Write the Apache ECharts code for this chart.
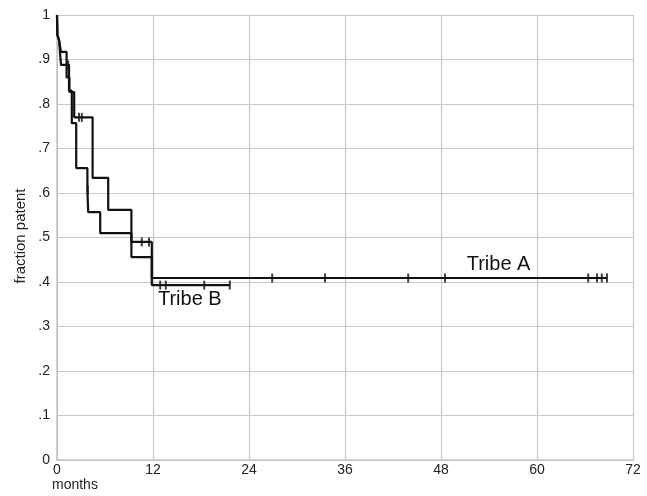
<!DOCTYPE html>
<html>
<head>
<meta charset="utf-8">
<script src="https://cdn.jsdelivr.net/npm/echarts@6/dist/echarts.min.js"></script>
<style>
  html, body { margin: 0; padding: 0; background: #fff; }
  #main { width: 647px; height: 496px; }
</style>
</head>
<body>
<div id="main"></div>
<script>
	// Kaplan-Meier steps: time (months) and fraction patent after each event
	var tribeA_t = [0, 0.05, 0.25, 0.5, 1.2, 1.55, 2.15, 4.45, 6.4, 9.3, 11.85, 68.75];
	var tribeA_s = [1, 0.955, 0.944, 0.917, 0.86, 0.827, 0.77, 0.634, 0.562, 0.49, 0.409, 0.409];
	var tribeA_censor = [2.75, 3.1, 10.6, 11.5, 26.9, 33.5, 43.9, 48.5, 66.4, 67.5, 68.1, 68.75];

	var tribeB_t = [0, 0.05, 0.25, 0.5, 1.5, 1.85, 2.4, 3.8, 3.9, 5.4, 9.3, 11.85, 21.6];
	var tribeB_s = [1, 0.955, 0.944, 0.888, 0.83, 0.757, 0.656, 0.607, 0.557, 0.51, 0.456, 0.393, 0.393];
	var tribeB_censor = [1.4, 3.85, 12.9, 13.6, 18.4, 21.6];

	var yLabels = {'0': '0', '0.1': '.1', '0.2': '.2', '0.3': '.3', '0.4': '.4', '0.5': '.5',
		'0.6': '.6', '0.7': '.7', '0.8': '.8', '0.9': '.9', '1': '1'};

	function pairs(t, s) {
		var out = [];
		for (var i = 0; i < t.length; i++) out.push([t[i], s[i]]);
		return out;
	}
	// level of the step curve at time x
	function levelAt(t, s, x) {
		var v = s[0];
		for (var i = 0; i < t.length; i++) { if (t[i] <= x) v = s[i]; }
		return v;
	}
	function censorPoints(t, s, c) {
		var out = [];
		for (var i = 0; i < c.length; i++) out.push([c[i], levelAt(t, s, c[i])]);
		return out;
	}

	var font = '"Liberation Sans", Arial, sans-serif';
	var myChart = echarts.init(document.getElementById('main'), null, {renderer: 'canvas'});

	myChart.setOption({
		animation: false,
		grid: { left: 57, right: 14, top: 15, bottom: 36 },
		xAxis: {
			type: 'value', min: 0, max: 72, interval: 12,
			axisLine: { show: true, lineStyle: { color: '#c4c4c4', width: 1.5 } },
			axisTick: { show: false },
			splitLine: { show: true, lineStyle: { color: '#c8c8c8', width: 1.2 } },
			axisLabel: { color: '#222', fontSize: 14, fontFamily: font, margin: 3 }
		},
		yAxis: {
			type: 'value', min: 0, max: 1, interval: 0.1,
			axisLine: { show: true, lineStyle: { color: '#c4c4c4', width: 1.5 } },
			axisTick: { show: false },
			splitLine: { show: true, lineStyle: { color: '#c8c8c8', width: 1.2 } },
			axisLabel: {
				color: '#222', fontSize: 14, fontFamily: font, margin: 7,
				formatter: function (v) { return yLabels[String(Math.round(v * 10) / 10)]; }
			}
		},
		graphic: [
			{ type: 'text', left: 52, top: 478,
				style: { text: 'months', fontSize: 14, fontFamily: font, fill: '#222' } },
			{ type: 'text', x: 21, y: 236, rotation: Math.PI / 2,
				style: { text: 'fraction patent', fontSize: 15, fontFamily: font, fill: '#222',
					align: 'center', verticalAlign: 'middle' } }
		],
		series: [
			{
				name: 'Tribe A', type: 'line', step: 'end', showSymbol: false,
				data: pairs(tribeA_t, tribeA_s),
				lineStyle: { color: '#111', width: 2.2 },
				markPoint: {
					symbolSize: 0,
					data: [{ coord: [55.2, 0.44],
						label: { show: true, formatter: 'Tribe A', color: '#111', fontSize: 20, fontFamily: font } }]
				}
			},
			{
				name: 'Tribe B', type: 'line', step: 'end', showSymbol: false,
				data: pairs(tribeB_t, tribeB_s),
				lineStyle: { color: '#111', width: 2.2 },
				markPoint: {
					symbolSize: 0,
					data: [{ coord: [16.6, 0.36],
						label: { show: true, formatter: 'Tribe B', color: '#111', fontSize: 20, fontFamily: font } }]
				}
			},
			{
				name: 'censorA', type: 'scatter', symbol: 'rect', symbolSize: [2, 9],
				itemStyle: { color: '#111' }, data: censorPoints(tribeA_t, tribeA_s, tribeA_censor)
			},
			{
				name: 'censorB', type: 'scatter', symbol: 'rect', symbolSize: [2, 9],
				itemStyle: { color: '#111' }, data: censorPoints(tribeB_t, tribeB_s, tribeB_censor)
			}
		]
	});
</script>
</body>
</html>
